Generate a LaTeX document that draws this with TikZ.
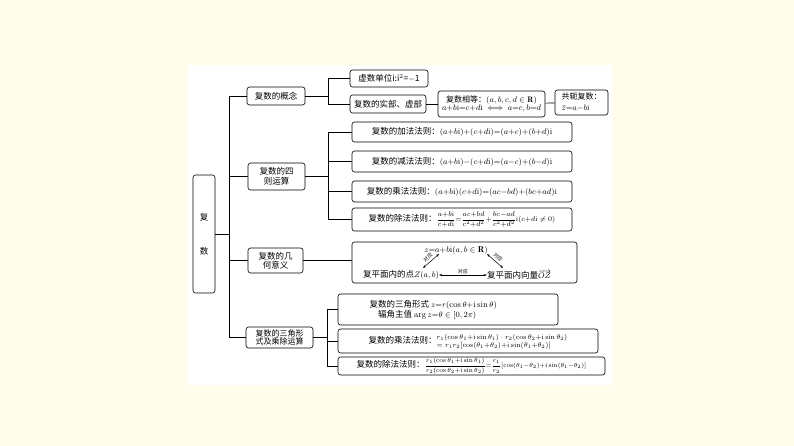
\documentclass[tikz,border=0pt]{standalone}
\usepackage{fontspec}
\usepackage{amsmath,amssymb}
\newfontfamily\cjk{Noto Sans CJK SC}
\usetikzlibrary{arrows.meta}
\begin{document}
\begin{tikzpicture}[x=1pt,y=-1pt,
 bx/.style={draw,rounded corners=2.5pt,line width=0.6pt,inner sep=1pt,font=\cjk\fontsize{8.5}{10}\selectfont,align=center},
 ln/.style={line width=0.6pt}]
\useasboundingbox (0,0) rectangle (794,446);
\fill[fill={rgb,255:red,255;green,252;blue,235}] (0,0) rectangle (794,446);
\fill[white] (188,65) rectangle (612,385);
% root
\node[bx,minimum width=22pt,minimum height=118pt] (root) at (204,234) {复\\[24pt]数};
% level1
\node[bx,minimum width=58pt,minimum height=18pt] (c1) at (276,96) {复数的概念};
\node[bx,minimum width=57pt,minimum height=27pt,font=\cjk\fontsize{8.5}{9.5}\selectfont] (c2) at (276.5,176.5) {复数的四\\则运算};
\node[bx,minimum width=55pt,minimum height=25pt,font=\cjk\fontsize{8.5}{9.5}\selectfont] (c3) at (275.5,260.5) {复数的几\\何意义};
\node[bx,minimum width=67pt,minimum height=21pt,font=\cjk\fontsize{8}{8.5}\selectfont] (c4) at (279.5,337.5) {复数的三角形\\式及乘除运算};
\coordinate (t1) at (229,96); \coordinate (t4) at (229,337.5);
\draw[ln] (root.east|-0,234) -- (229,234);
\draw[ln] (t1) -- (t4);
\draw[ln] (t1) -- (c1); \draw[ln] (229,176.5) -- (c2.west); \draw[ln] (229,260.5) -- (c3.west); \draw[ln] (t4) -- (c4);
% concept children
\node[bx,minimum width=78pt,minimum height=17pt] (d1) at (389,78.5) {虚数单位i:i$^2$=$-$1};
\node[bx,minimum width=76pt,minimum height=18pt] (d2) at (388,104) {复数的实部、虚部};
\node[bx,minimum width=107pt,minimum height=26pt,font=\cjk\fontsize{8}{8.5}\selectfont] (d3) at (491.5,104) {复数相等：$(a,b,c,d\in\mathbf{R})$\\$a{+}b\mathrm{i}{=}c{+}d\mathrm{i}\iff a{=}c,b{=}d$};
\node[bx,minimum width=53pt,minimum height=25pt,font=\cjk\fontsize{8}{11}\selectfont,align=left] (d4) at (581.5,102.5) {共轭复数：\\$\bar z{=}a{-}b\mathrm{i}$};
\draw[ln] (c1) -- (328,96); \draw[ln] (328,78.5) -- (328,104);
\draw[ln] (328,78.5) -- (d1); \draw[ln] (328,104) -- (d2);
\draw[ln] (d2) -- (d3); \draw[ln] (d3) -- (d4);
% four ops
\node[bx,minimum width=220pt,minimum height=20pt] (e1) at (462,132) {复数的加法法则：$(a{+}b\mathrm{i}){+}(c{+}d\mathrm{i}){=}(a{+}c){+}(b{+}d)\mathrm{i}$};
\node[bx,minimum width=220pt,minimum height=21pt] (e2) at (462,161.5) {复数的减法法则：$(a{+}b\mathrm{i}){-}(c{+}d\mathrm{i}){=}(a{-}c){+}(b{-}d)\mathrm{i}$};
\node[bx,minimum width=220pt,minimum height=21pt] (e3) at (462,191.5) {复数的乘法法则：$(a{+}b\mathrm{i})(c{+}d\mathrm{i}){=}(ac{-}bd){+}(bc{+}ad)\mathrm{i}$};
\node[bx,minimum width=220pt,minimum height=23pt,inner sep=0pt] (e4) at (462,219.5) {复数的除法法则：{\fontsize{7}{7}\selectfont$\dfrac{a{+}b\mathrm{i}}{c{+}d\mathrm{i}}{=}\dfrac{ac{+}bd}{c^2{+}d^2}{+}\dfrac{bc{-}ad}{c^2{+}d^2}\mathrm{i}(c{+}d\mathrm{i}\neq0)$}};
\draw[ln] (c2) -- (328,176.5); \draw[ln] (328,132) -- (328,219.5);
\foreach \n/\y in {e1/132,e2/161.5,e3/191.5,e4/219.5} \draw[ln] (328,\y) -- (\n.west);
% geometry
\node[bx,minimum width=225pt,minimum height=41pt] (g) at (464.5,262.5) {};
\draw[ln] (c3) -- (g.west|-0,260.5);
\node[font=\fontsize{8.5}{9}\selectfont,inner sep=0] (gz) at (456,250) {$z{=}a{+}b\mathrm{i}(a,b\in\mathbf{R})$};
\node[font=\cjk\fontsize{8.5}{9}\selectfont,inner sep=0] (gp) at (401,275) {复平面内的点$Z(a,b)$};
\node[font=\cjk\fontsize{8.5}{9}\selectfont,inner sep=0] (gv) at (519,275) {复平面内向量$\overrightarrow{OZ}$};
\draw[{Stealth[length=3pt]}-{Stealth[length=3pt]},line width=0.5pt] (gp.east) -- node[above=1pt,font=\cjk\fontsize{5}{5}\selectfont,inner sep=0]{对应} (gv.west);
\draw[{Stealth[length=3pt]}-{Stealth[length=3pt]},line width=0.5pt] (423,268) -- node[above=1pt,sloped,font=\cjk\fontsize{5}{5}\selectfont,inner sep=1pt,pos=0.5]{对应} (439,254);
\draw[{Stealth[length=3pt]}-{Stealth[length=3pt]},line width=0.5pt] (487,254) -- node[above=1pt,sloped,font=\cjk\fontsize{5}{5}\selectfont,inner sep=1pt]{对应} (503,268);
% trig
\node[bx,minimum width=220pt,minimum height=31pt,align=left] (f1) at (448,309.5) {复数的三角形式 $z{=}r(\cos\theta{+}\mathrm{i}\sin\theta)$\\\quad 辐角主值 $\arg z{=}\theta\in[0,2\pi)$\hspace*{50pt}};
\node[bx,minimum width=260pt,minimum height=24pt] (f2) at (468,341) {复数的乘法法则：\begin{tabular}{@{}l@{}}\fontsize{7}{8}\selectfont$r_1(\cos\theta_1{+}\mathrm{i}\sin\theta_1)\cdot r_2(\cos\theta_2{+}\mathrm{i}\sin\theta_2)$\\[-2pt]\fontsize{7}{8}\selectfont$=r_1r_2[\cos(\theta_1{+}\theta_2){+}\mathrm{i}\sin(\theta_1{+}\theta_2)]$\end{tabular}};
\node[bx,minimum width=267pt,minimum height=18pt,inner sep=0pt] (f3) at (471.5,366) {复数的除法法则：{\fontsize{6.5}{7}\selectfont$\dfrac{r_1(\cos\theta_1{+}\mathrm{i}\sin\theta_1)}{r_2(\cos\theta_2{+}\mathrm{i}\sin\theta_2)}{=}\dfrac{r_1}{r_2}[\cos(\theta_1{-}\theta_2){+}\mathrm{i}\sin(\theta_1{-}\theta_2)]$}};
\draw[ln] (c4) -- (327,337.5); \draw[ln] (327,309.5) -- (327,366);
\foreach \n/\y in {f1/309.5,f2/341,f3/366} \draw[ln] (327,\y) -- (\n.west|-0,\y);
\end{tikzpicture}
\end{document}
